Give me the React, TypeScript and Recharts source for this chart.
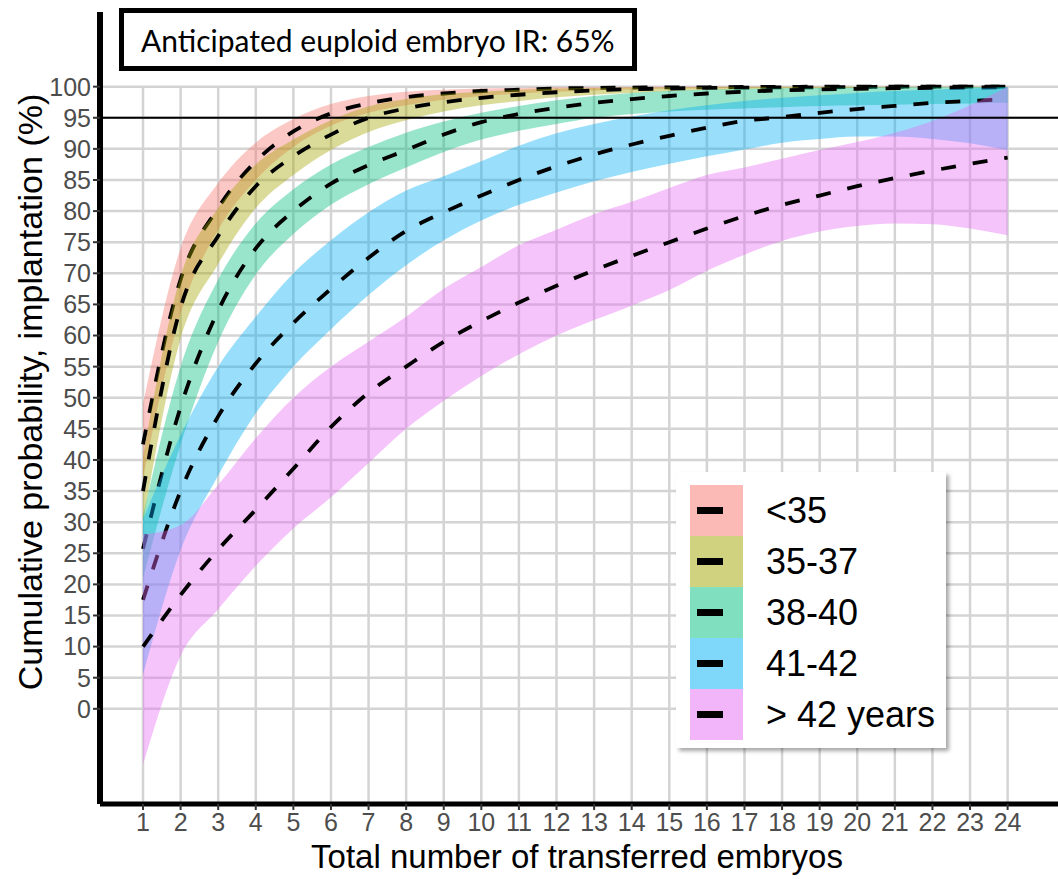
import React from "react";
import {
  Area,
  ComposedChart,
  Line,
  ReferenceLine,
  XAxis,
  YAxis,
} from "recharts";

const transfers = [
  1, 2, 3, 4, 5, 6, 7, 8, 9, 10, 11, 12, 13, 14, 15, 16, 17, 18, 19, 20, 21,
  22, 23, 24,
];

// <35
const meanUnder35 = [
  42.5, 69, 80.5, 88, 92.8, 95.7, 97.3, 98.3, 98.9, 99.3, 99.5, 99.7, 99.8,
  99.85, 99.9, 99.9, 99.95, 99.95, 100, 100, 100, 100, 100, 100,
];
const lowUnder35 = [
  37, 63.5, 77, 85, 90.3, 93.7, 95.8, 97, 97.9, 98.5, 98.9, 99.2, 99.4, 99.55,
  99.65, 99.75, 99.8, 99.85, 99.9, 99.9, 99.9, 99.95, 99.95, 99.95,
];
const highUnder35 = [
  49, 74, 84.5, 91, 94.8, 97.2, 98.5, 99.2, 99.5, 99.7, 99.8, 99.9, 99.9,
  99.95, 100, 100, 100, 100, 100, 100, 100, 100, 100, 100,
];

// 35-37
const mean35to37 = [
  35, 64.5, 76, 84, 88.8, 92.3, 95, 96.5, 97.5, 98.2, 98.7, 99.1, 99.4, 99.6,
  99.7, 99.8, 99.85, 99.9, 99.9, 99.95, 100, 100, 100, 100,
];
const low35to37 = [
  30, 59.5, 71.5, 80.5, 85.8, 89.8, 92.7, 94.6, 96, 97, 97.7, 98.3, 98.7, 99,
  99.25, 99.45, 99.6, 99.7, 99.75, 99.8, 99.85, 99.9, 99.9, 99.9,
];
const high35to37 = [
  40.5, 69.5, 80.5, 87.5, 91.5, 94.6, 96.8, 98, 98.8, 99.2, 99.5, 99.7, 99.8,
  99.85, 99.9, 99.95, 100, 100, 100, 100, 100, 100, 100, 100,
];

// 38-40
const mean38to40 = [
  25.7, 48.5, 64, 74, 80, 84.4, 87.4, 89.8, 92.3, 94.3, 95.6, 96.6, 97.4, 98,
  98.5, 98.9, 99.2, 99.4, 99.55, 99.65, 99.75, 99.8, 99.85, 99.9,
];
const low38to40 = [
  21, 42.5, 59, 69.8, 76.3, 81, 84.3, 87, 89.5, 91.5, 92.9, 94, 95, 95.6, 96,
  96.3, 96.5, 96.7, 96.9, 97, 97.1, 97.2, 97.3, 97.4,
];
const high38to40 = [
  31, 55, 69, 78, 83.5, 87.5, 90.3, 92.6, 94.4, 95.8, 96.9, 97.8, 98.5, 99,
  99.3, 99.5, 99.65, 99.75, 99.8, 99.85, 99.9, 99.9, 99.95, 99.95,
];

// 41-42
const mean41to42 = [
  17.5, 35, 47, 55.5, 62, 67.5, 72.5, 76.8, 79.8, 82.5, 85, 87.2, 89.1, 90.7,
  92.1, 93.4, 94.5, 95.1, 95.8, 96.4, 96.9, 97.4, 97.7, 98,
];
const low41to42 = [
  5.5, 25.5, 37.5, 47.5, 55, 61, 66.5, 71.3, 75.3, 78.5, 81, 83, 84.8, 86.3,
  87.6, 88.8, 89.9, 91, 91.6, 92, 92, 91.6, 90.9, 89.8,
];
const high41to42 = [
  30.5, 44, 55, 63, 70, 75.3, 79.8, 83.3, 85.6, 88, 90.5, 92.5, 94, 95.2, 96.2,
  97, 97.7, 98.2, 98.6, 99, 99.3, 99.5, 99.7, 99.9,
];

// > 42 years
const meanOver42 = [
  10, 18.3, 25.6, 32, 38.6, 45.3, 50.8, 55, 59, 62.3, 65.3, 68, 70.5, 72.8, 75,
  77.2, 79.2, 81, 82.5, 84, 85.3, 86.5, 87.6, 88.6,
];
const lowOver42 = [
  -9, 8.5, 16, 23, 29, 34, 39.5, 45, 49.5, 53.5, 57, 60, 62.5, 64.8, 67.3,
  70.4, 73, 75.2, 76.7, 77.6, 78, 77.9, 77.2, 76.1,
];
const highOver42 = [
  28, 29.5, 36, 43.5, 50, 55, 59, 63, 67.5, 71, 74.5, 77, 79.5, 81.5, 83.7,
  85.8, 87, 88.4, 89.8, 91.1, 92.6, 94.5, 97, 100,
];

const yTicks = [
  0, 5, 10, 15, 20, 25, 30, 35, 40, 45, 50, 55, 60, 65, 70, 75, 80, 85, 90, 95,
  100,
];

const X_MIN = -0.144;
const X_MAX = 25.34;
const Y_MIN = -15.3;
const Y_MAX = 112;
const TARGET = 95;

const groups = [
  { key: "g1", label: "<35", color: "#F8766D", mean: meanUnder35, lower: lowUnder35, upper: highUnder35 },
  { key: "g2", label: "35-37", color: "#A3A500", mean: mean35to37, lower: low35to37, upper: high35to37 },
  { key: "g3", label: "38-40", color: "#00BF7D", mean: mean38to40, lower: low38to40, upper: high38to40 },
  { key: "g4", label: "41-42", color: "#00B0F6", mean: mean41to42, lower: low41to42, upper: high41to42 },
  { key: "g5", label: "> 42 years", color: "#E76BF3", mean: meanOver42, lower: lowOver42, upper: highOver42 },
];

const rows = transfers.map((x, i) => {
  const row: Record<string, number | number[]> = { x };
  groups.forEach((g) => {
    row[g.key] = g.mean[i];
    row[`${g.key}Band`] = [g.lower[i], g.upper[i]];
  });
  return row;
});

const sans = "'Liberation Sans', Arial, sans-serif";
const gridColor = "#d4d4d4";

export default function App() {
  return (
    <div
      style={{
        position: "absolute",
        left: 0,
        top: 0,
        width: 1058,
        height: 879,
        background: "#fff",
        fontFamily: sans,
      }}
    >
      <ComposedChart
        data={rows}
        height={879}
        margin={{ top: 12, right: 0, bottom: 0, left: 0 }}
        width={1058}
      >
        {/* grid: horizontal lines only at the ticks, vertical ones stop at 100 */}
        {yTicks.map((t) => (
          <ReferenceLine
            key={`h${t}`}
            segment={[
              { x: X_MIN, y: t },
              { x: X_MAX, y: t },
            ]}
            stroke={gridColor}
            strokeWidth={2.5}
            zIndex={-100}
          />
        ))}
        {transfers.map((t) => (
          <ReferenceLine
            key={`v${t}`}
            segment={[
              { x: t, y: Y_MIN },
              { x: t, y: 100 },
            ]}
            stroke={gridColor}
            strokeWidth={2.5}
            zIndex={-100}
          />
        ))}
        <XAxis
          allowDataOverflow
          axisLine={{ stroke: "#000", strokeWidth: 5 }}
          dataKey="x"
          domain={[X_MIN, X_MAX]}
          height={75}
          interval={0}
          tick={{ fill: "#4d4d4d", fontSize: 25, fontFamily: sans }}
          tickLine={{ stroke: "#333", strokeWidth: 2 }}
          tickMargin={3}
          tickSize={6}
          ticks={transfers}
          type="number"
        />
        <YAxis
          allowDataOverflow
          axisLine={{ stroke: "#000", strokeWidth: 6 }}
          domain={[Y_MIN, Y_MAX]}
          interval={0}
          tick={{ fill: "#4d4d4d", fontSize: 25, fontFamily: sans }}
          tickLine={{ stroke: "#333", strokeWidth: 2 }}
          tickMargin={2}
          tickSize={7}
          ticks={yTicks}
          type="number"
          width={100}
        />
        {groups.map((g, i) => [
          <Area
            dataKey={`${g.key}Band`}
            fill={g.color}
            fillOpacity={0.4}
            isAnimationActive={false}
            key={`${g.key}a`}
            stroke="none"
            type="monotone"
            zIndex={100 + i * 10}
          />,
          <Line
            dataKey={g.key}
            dot={false}
            isAnimationActive={false}
            key={`${g.key}l`}
            stroke="#000"
            strokeDasharray="15 17"
            strokeWidth={3.8}
            type="monotone"
            zIndex={105 + i * 10}
          />,
        ])}
        <ReferenceLine stroke="#000" strokeWidth={2} y={TARGET} zIndex={900} />
      </ComposedChart>

      <div
        style={{
          position: "absolute",
          left: 119,
          top: 8,
          width: 518,
          height: 63,
          boxSizing: "border-box",
          border: "5px solid #000",
          background: "#fff",
          display: "flex",
          alignItems: "center",
          paddingLeft: 17,
          fontFamily: "Lato, sans-serif",
          fontSize: 30,
          color: "#000",
          whiteSpace: "nowrap",
        }}
      >
        Anticipated euploid embryo IR: 65%
      </div>

      <div
        style={{
          position: "absolute",
          left: 30,
          top: 392,
          transform: "translate(-50%, -50%) rotate(-90deg)",
          whiteSpace: "nowrap",
          fontSize: 34,
          color: "#000",
        }}
      >
        Cumulative probability, implantation (%)
      </div>

      <div
        style={{
          position: "absolute",
          left: 577,
          top: 857,
          transform: "translate(-50%, -50%)",
          whiteSpace: "nowrap",
          fontSize: 33,
          color: "#000",
        }}
      >
        Total number of transferred embryos
      </div>

      <div
        style={{
          position: "absolute",
          left: 676,
          top: 472,
          width: 270,
          height: 276,
          background: "#fff",
          boxShadow: "3px 3px 4px rgba(0,0,0,0.35)",
        }}
      >
        {groups.map((g, i) => (
          <div
            key={g.key}
            style={{
              position: "absolute",
              left: 14,
              top: 13 + i * 51,
              height: 51,
              display: "flex",
              alignItems: "center",
            }}
          >
            <div
              style={{
                position: "relative",
                width: 53,
                height: 51,
                background: g.color,
                opacity: 0.5,
              }}
            />
            <div
              style={{
                position: "absolute",
                left: 7,
                top: 22,
                width: 26,
                height: 7,
                background: "#000",
              }}
            />
            <span style={{ marginLeft: 23, fontSize: 36, color: "#000" }}>
              {g.label}
            </span>
          </div>
        ))}
      </div>
    </div>
  );
}
